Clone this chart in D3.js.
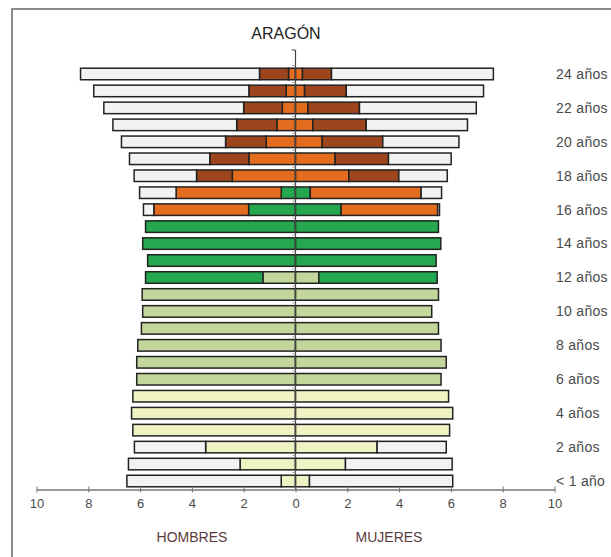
<!DOCTYPE html>
<html>
<head>
<meta charset="utf-8">
<script src="https://cdn.jsdelivr.net/npm/d3@7"></script>
<style>
  body { margin: 0; background: #fff; }
  svg { display: block; font-family: "Liberation Sans", Arial, sans-serif; }
</style>
</head>
<body>
<svg width="611" height="557"></svg>
<script>
// ages, bottom to top
var edades = ['< 1 año', '1 año', '2 años', '3 años', '4 años', '5 años', '6 años', '7 años', '8 años',
  '9 años', '10 años', '11 años', '12 años', '13 años', '14 años', '15 años', '16 años', '17 años',
  '18 años', '19 años', '20 años', '21 años', '22 años', '23 años', '24 años']

// levels from the centre outwards
var niveles = ['infantil', 'primaria', 'eso', 'postobligatoria', 'universidad', 'noEscolarizado']
var colores = ['#eff3c4', '#c3d69b', '#24a74f', '#e36c1f', '#9d461d', '#f2f2f2']

var ejeTicks = [-10, -8, -6, -4, -2, 0, 2, 4, 6, 8, 10]

// percent of population, HOMBRES
var hombresInfantil = [0.55, 2.14, 3.47, 6.28, 6.33, 6.28, 0, 0, 0, 0, 0, 0, 0, 0, 0, 0, 0, 0, 0, 0, 0, 0, 0, 0, 0]
var hombresPrimaria = [0, 0, 0, 0, 0, 0, 6.13, 6.13, 6.09, 5.95, 5.90, 5.92, 1.26, 0, 0, 0, 0, 0, 0, 0, 0, 0, 0, 0, 0]
var hombresEso = [0, 0, 0, 0, 0, 0, 0, 0, 0, 0, 0, 0, 4.53, 5.71, 5.90, 5.79, 1.81, 0.55, 0, 0, 0, 0, 0, 0, 0]
var hombresPostobl = [0, 0, 0, 0, 0, 0, 0, 0, 0, 0, 0, 0, 0, 0, 0, 0, 3.66, 4.06, 2.44, 1.80, 1.13, 0.72, 0.51, 0.36, 0.27]
var hombresUniv = [0, 0, 0, 0, 0, 0, 0, 0, 0, 0, 0, 0, 0, 0, 0, 0, 0, 0, 1.38, 1.51, 1.57, 1.55, 1.49, 1.44, 1.12]
var hombresNoEsc = [5.96, 4.31, 2.75, 0, 0, 0, 0, 0, 0, 0, 0, 0, 0, 0, 0, 0, 0.40, 1.41, 2.41, 3.10, 4.02, 4.78, 5.40, 5.99, 6.91]

// percent of population, MUJERES
var mujeresInfantil = [0.54, 1.93, 3.15, 5.95, 6.07, 5.91, 0, 0, 0, 0, 0, 0, 0, 0, 0, 0, 0, 0, 0, 0, 0, 0, 0, 0, 0]
var mujeresPrimaria = [0, 0, 0, 0, 0, 0, 5.62, 5.82, 5.62, 5.52, 5.26, 5.52, 0.90, 0, 0, 0, 0, 0, 0, 0, 0, 0, 0, 0, 0]
var mujeresEso = [0, 0, 0, 0, 0, 0, 0, 0, 0, 0, 0, 0, 4.57, 5.43, 5.61, 5.52, 1.76, 0.57, 0, 0, 0, 0, 0, 0, 0]
var mujeresPostobl = [0, 0, 0, 0, 0, 0, 0, 0, 0, 0, 0, 0, 0, 0, 0, 0, 3.73, 4.28, 2.06, 1.53, 1.03, 0.67, 0.48, 0.35, 0.27]
var mujeresUniv = [0, 0, 0, 0, 0, 0, 0, 0, 0, 0, 0, 0, 0, 0, 0, 0, 0, 0, 1.93, 2.06, 2.34, 2.06, 1.99, 1.61, 1.12]
var mujeresNoEsc = [5.53, 4.12, 2.67, 0, 0, 0, 0, 0, 0, 0, 0, 0, 0, 0, 0, 0, 0.07, 0.79, 1.87, 2.42, 2.94, 3.91, 4.51, 5.30, 6.25]

function tabla(series) {
  return edades.map((e, i) => {
    var row = { edad: e }
    niveles.forEach((k, j) => { row[k] = series[j][i] })
    return row
  })
}

var hombres = tabla([hombresInfantil, hombresPrimaria, hombresEso, hombresPostobl, hombresUniv, hombresNoEsc])
var mujeres = tabla([mujeresInfantil, mujeresPrimaria, mujeresEso, mujeresPostobl, mujeresUniv, mujeresNoEsc])

var svg = d3.select('svg')

// frame (top and left edges visible)
svg.append('path')
  .attr('d', 'M12,557 L12,9 L611,9')
  .style('fill', 'none')
  .style('stroke', '#8c8c8c')
  .style('stroke-width', 2)

var x = d3.scaleLinear().domain([-10, 10]).range([36.5, 554.5])
var y = d3.scaleBand().domain(edades.slice().reverse()).range([65.5, 489.5])
  .paddingInner(0.32).paddingOuter(0.16)
var color = d3.scaleOrdinal().domain(niveles).range(colores)

var stack = d3.stack().keys(niveles)

function drawSide(data, sign, cls) {
  var layers = stack(data)
  svg.append('g').attr('class', cls)
    .selectAll('g')
    .data(layers)
    .enter()
    .append('g')
    .style('fill', d => color(d.key))
    .selectAll('rect')
    .data(d => d.filter(s => s[1] - s[0] > 0))
    .enter()
    .append('rect')
    .attr('x', s => sign < 0 ? x(-s[1]) : x(s[0]))
    .attr('width', s => x(s[1]) - x(s[0]))
    .attr('y', s => y(s.data.edad))
    .attr('height', y.bandwidth())
    .style('stroke', '#222')
    .style('stroke-width', 1.5)
}

drawSide(hombres, -1, 'hombres')
drawSide(mujeres, 1, 'mujeres')

// centre line with small ticks between rows
svg.append('line')
  .attr('x1', x(0)).attr('x2', x(0))
  .attr('y1', 50).attr('y2', y.range()[1])
  .style('stroke', '#444')
  .style('stroke-width', 1.2)
svg.append('line')
  .attr('x1', x(0) - 4).attr('x2', x(0))
  .attr('y1', 50).attr('y2', 50)
  .style('stroke', '#444')
  .style('stroke-width', 1)
svg.append('g')
  .selectAll('line')
  .data(edades)
  .enter()
  .append('line')
  .attr('x1', x(0) - 3).attr('x2', x(0))
  .attr('y1', d => y(d) - y.step() * 0.16)
  .attr('y2', d => y(d) - y.step() * 0.16)
  .style('stroke', '#999')
  .style('stroke-width', 1)

// x axis
var axis = svg.append('g')
  .attr('transform', 'translate(0,' + y.range()[1] + ')')
  .call(d3.axisBottom(x).tickValues(ejeTicks).tickFormat(d => Math.abs(d))
    .tickSizeInner(4).tickSizeOuter(0).tickPadding(5))
axis.select('.domain').style('stroke', '#777').style('stroke-width', 1.3)
axis.selectAll('.tick line').attr('y1', -3).attr('y2', 3).style('stroke', '#777')
axis.selectAll('.tick text')
  .style('font-size', '13px')
  .style('fill', '#4a4a4a')
  .style('font-family', '"Liberation Sans", Arial, sans-serif')

// age labels on the right
svg.append('g')
  .selectAll('text')
  .data(edades.filter((e, i) => i % 2 === 0))
  .enter()
  .append('text')
  .attr('x', 556)
  .attr('y', d => y(d) + y.bandwidth() / 2)
  .attr('dy', '0.35em')
  .style('font-size', '14px')
  .style('letter-spacing', '0.3px')
  .style('fill', '#4a4a4a')
  .text(d => d)

svg.append('text')
  .attr('x', 286).attr('y', 39)
  .style('text-anchor', 'middle')
  .style('font-size', '16px')
  .style('fill', '#222')
  .text('ARAGÓN')

svg.append('text')
  .attr('x', 192).attr('y', 542)
  .style('text-anchor', 'middle')
  .style('font-size', '14px')
  .style('fill', '#5a3b3b')
  .text('HOMBRES')

svg.append('text')
  .attr('x', 389).attr('y', 542)
  .style('text-anchor', 'middle')
  .style('font-size', '14px')
  .style('fill', '#5a3b3b')
  .text('MUJERES')
</script>
</body>
</html>
